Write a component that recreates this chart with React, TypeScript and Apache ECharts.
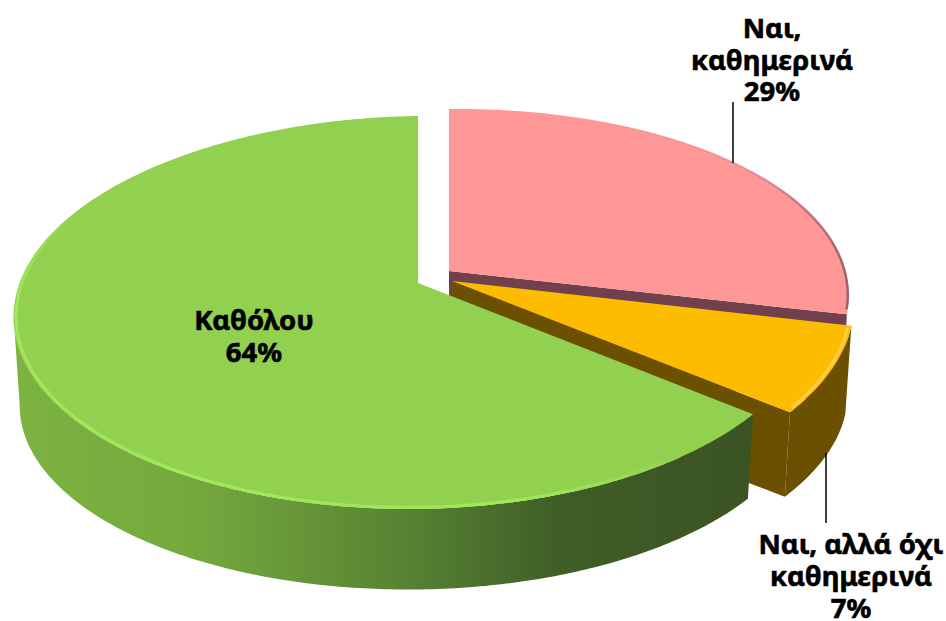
import React, { useEffect, useRef } from "react";
import * as echarts from "echarts";

const categories = ["Ναι,\nκαθημερινά", "Ναι, αλλά όχι\nκαθημερινά", "Καθόλου"];
const values = [29, 7, 64];

const P = 0.15;
const RX = 396;
const RY = 192;
const RX_LOW = 390;
const RY_LOW = 184;
const DEPTH = 90;
const SKEW = 0.012;
const FONT = 'bold 27.5px "Noto Sans"';

const looks = [
  {
    apex: [449, 271], sy: 0.97, bow: -1, top: "#FF9797", wall: "#70404C",
    rim: { from: 25, to: 103, width: 2.5, inset: 0.998, stroke: { type: "linear", x: 0, y: 0, x2: 1, y2: 0, colorStops: [{ offset: 0, color: "rgba(170,100,110,0)" }, { offset: 0.6, color: "rgba(170,100,110,0.25)" }, { offset: 1, color: "#A0606C" }] } },
    label: { x: 772, y: 12, lineH: 31.5 },
    leader: [733, 102, 733, 163],
  },
  {
    apex: [452, 281], sy: 1, bow: 1, top: "#FDBC00", wall: "#6A5000",
    rim: { from: 105, to: 128.5, width: 3, inset: 0.992, stroke: "rgba(255,214,90,0.75)" },
    label: { x: 851, y: 527, lineH: 32 },
    leader: [826, 453, 826, 523],
  },
  {
    apex: [418, 283], sy: 1, bow: -4, top: "#92D050", wall: { type: "linear", x: 0, y: 0, x2: 1, y2: 0, colorStops: [{ offset: 0, color: "#7CB341" }, { offset: 0.25, color: "#74A83D" }, { offset: 0.52, color: "#588433" }, { offset: 0.74, color: "#3F5E27" }, { offset: 1, color: "#3B5323" }] },
    rim: { from: 132, to: 292, width: 3, inset: 0.994, stroke: { type: "linear", x: 1, y: 0, x2: 0, y2: 1, colorStops: [{ offset: 0, color: "rgba(160,232,88,0)" }, { offset: 0.44, color: "rgba(160,232,88,0)" }, { offset: 0.64, color: "#A0E858" }, { offset: 1, color: "#A0E858" }] } },
    label: { x: 254, y: 303, lineH: 32 },
    leader: null,
  },
];

const rad = (d: number) => (d * Math.PI) / 180;

function proj(look: any, deg: number, r: number, low: boolean) {
  const u = r * Math.sin(rad(deg));
  const v = r * Math.cos(rad(deg));
  const d = 1 + P * v;
  const dx = ((low ? RX_LOW : RX) * u) / d + look.bow * u * u;
  const dy = low ? DEPTH - (RY_LOW * look.sy * v) / d : -(RY * look.sy * v) / d;
  return [look.apex[0] + dx, look.apex[1] + dy - SKEW * dx];
}

function arc(look: any, from: number, to: number, r: number, low: boolean) {
  const n = Math.max(2, Math.ceil(Math.abs(to - from) * 1.5));
  const out: number[][] = [];
  for (let i = 0; i <= n; i++) out.push(proj(look, from + ((to - from) * i) / n, r, low));
  return out;
}

function renderItem(_: any, api: any) {
  const i = api.value(1) as number;
  const total = values.reduce((a, b) => a + b, 0);
  let acc = 0;
  for (let k = 0; k < i; k++) acc += values[k];
  const a0 = (acc / total) * 360;
  const a1 = ((acc + values[i]) / total) * 360;
  const look: any = looks[i];
  const children: any[] = [];

  const wallFrom = Math.max(a0, 98);
  const wallTo = Math.min(a1, 262);
  if (wallTo > wallFrom) {
    children.push({
      type: "polygon",
      shape: { points: [...arc(look, wallFrom, wallTo, 1, false), ...arc(look, wallTo, wallFrom, 1, true)] },
      style: { fill: look.wall },
    });
  }
  if (i < 2) {
    children.push({
      type: "polygon",
      shape: { points: [proj(look, a1, 0, false), proj(look, a1, 1, false), proj(look, a1, 1, true), proj(look, a1, 0, true)] },
      style: { fill: look.wall },
    });
  }
  children.push({
    type: "polygon",
    shape: { points: [proj(look, a0, 0, false), ...arc(look, a0, a1, 1, false)] },
    style: { fill: look.top },
  });
  children.push({
    type: "polyline",
    shape: { points: arc(look, look.rim.from, look.rim.to, look.rim.inset, false) },
    style: { fill: "none", stroke: look.rim.stroke, lineWidth: look.rim.width },
  });
  if (look.leader) {
    children.push({
      type: "line",
      shape: { x1: look.leader[0], y1: look.leader[1], x2: look.leader[2], y2: look.leader[3] },
      style: { stroke: "#000", lineWidth: 1.5 },
    });
  }
  children.push({
    type: "text",
    style: {
      text: `${categories[i]}\n${values[i]}%`,
      x: look.label.x,
      y: look.label.y,
      align: "center",
      verticalAlign: "top",
      font: FONT,
      lineHeight: look.label.lineH,
      fill: "#000",
      stroke: "#000",
      lineWidth: 0.6,
    },
  });
  return { type: "group", children };
}

export default function App() {
  const ref = useRef<HTMLDivElement>(null);
  useEffect(() => {
    const chart = echarts.init(ref.current!, undefined, { renderer: "svg" });
    chart.setOption({
      animation: false,
      backgroundColor: "#fff",
      series: [
        {
          type: "custom",
          coordinateSystem: "none",
          renderItem,
          data: values.map((v, i) => [v, i]),
          silent: true,
        },
      ],
    });
    return () => chart.dispose();
  }, []);
  return <div ref={ref} style={{ position: "absolute", left: 0, top: 0, width: 946, height: 621 }} />;
}
